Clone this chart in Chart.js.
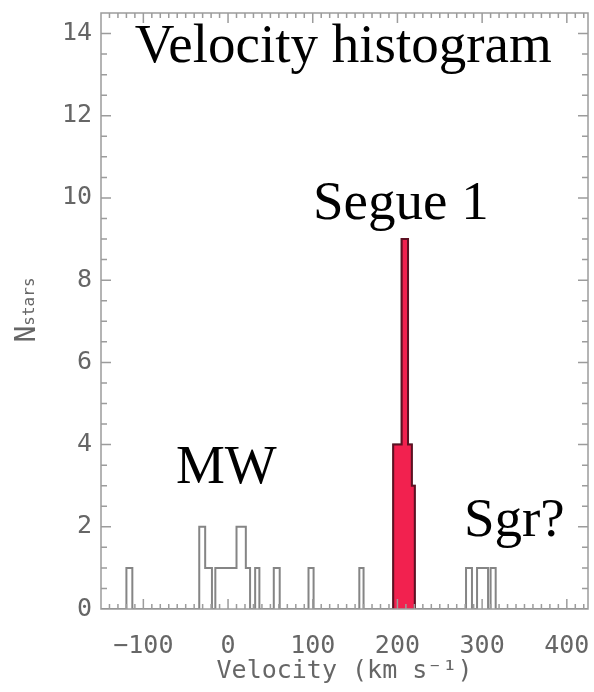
<!DOCTYPE html>
<html lang="en">
<head>
<meta charset="utf-8">
<title>Velocity histogram</title>
<script src="https://cdn.jsdelivr.net/npm/chart.js@4.4.0/dist/chart.umd.min.js"></script>
<style>
  html, body { margin: 0; padding: 0; background: #fff; }
  #wrap { width: 594px; height: 692px; }
</style>
</head>
<body>
<div id="wrap"><canvas id="velChart"></canvas></div>
<script>
// all stars: left bin edges (km/s) and counts in each bin
const allEdges  = [-150, -120, -113, -34, -27, -19, -15, 10, 21, 26, 32, 37, 54, 61, 95, 101, 155, 160, 195, 205, 212.5, 217, 220.5, 281, 288, 294, 307, 310, 316, 425];
const allCounts = [0, 1, 0, 2, 1, 0, 1, 2, 1, 0, 1, 0, 1, 0, 1, 0, 1, 0, 4, 9, 4, 3, 0, 1, 0, 1, 0, 1, 0, 0];
// Segue 1 members
const segEdges  = [195, 205, 212.5, 217, 220.5];
const segCounts = [4, 9, 4, 3, 0];

const xTicks = [-100, 0, 100, 200, 300, 400];
const yTicks = [0, 2, 4, 6, 8, 10, 12, 14];

// text labels placed in data coordinates (x, y = baseline)
const labelText = ['Velocity histogram', 'Segue 1', 'MW', 'Sgr?'];
const labelX    = [136, 204, -2, 338];
const labelY    = [13.3, 9.5, 3.07, 1.78];

function stepPoints(edges, counts) {
  const pts = [{x: edges[0], y: 0}];
  edges.forEach((e, i) => pts.push({x: e, y: counts[i]}));
  return pts;
}

const monoFont = "'DejaVu Sans Mono', monospace";

// box frame with inward ticks on all four sides
const frameTicks = {
  id: 'frameTicks',
  afterDatasetsDraw(chart) {
    const {ctx, chartArea: a, scales: {x, y}} = chart;
    ctx.save();
    ctx.strokeStyle = '#9c9c9c';
    ctx.lineWidth = 1.5;
    ctx.strokeRect(a.left, a.top, a.right - a.left, a.bottom - a.top);
    ctx.beginPath();
    for (let v = -140; v < 425; v += 10) {
      const px = x.getPixelForValue(v);
      const len = v % 100 === 0 ? 10 : 5;
      ctx.moveTo(px, a.bottom); ctx.lineTo(px, a.bottom - len);
      ctx.moveTo(px, a.top); ctx.lineTo(px, a.top + len);
    }
    for (let v = 0.5; v < 14.5; v += 0.5) {
      const py = y.getPixelForValue(v);
      const len = v % 2 === 0 ? 10 : 6;
      ctx.moveTo(a.left, py); ctx.lineTo(a.left + len, py);
      ctx.moveTo(a.right, py); ctx.lineTo(a.right - len, py);
    }
    ctx.stroke();
    ctx.restore();
  },
  afterDraw(chart) {
    const {ctx, scales: {x, y}} = chart;
    ctx.save();
    // N_stars y title
    ctx.translate(35, 310);
    ctx.rotate(-Math.PI / 2);
    ctx.fillStyle = '#666';
    ctx.textBaseline = 'alphabetic';
    ctx.font = '28px ' + monoFont;
    const wN = ctx.measureText('N').width;
    ctx.font = '16px ' + monoFont;
    const wS = ctx.measureText('stars').width;
    const start = -(wN + wS) / 2;
    ctx.font = '28px ' + monoFont;
    ctx.fillText('N', start, 0);
    ctx.font = '16px ' + monoFont;
    ctx.fillText('stars', start + wN, -1);
    ctx.restore();

    ctx.save();
    ctx.fillStyle = '#000';
    ctx.textAlign = 'center';
    ctx.textBaseline = 'alphabetic';
    ctx.font = "55px 'Liberation Serif', serif";
    labelText.forEach((t, i) => {
      ctx.fillText(t, x.getPixelForValue(labelX[i]), y.getPixelForValue(labelY[i]));
    });
    ctx.restore();
  }
};

const fmt = v => v < 0 ? '\u2212' + Math.abs(v) : String(v);

const config = {
  type: 'line',
  data: {
    datasets: [
      {
        label: 'Segue 1',
        data: stepPoints(segEdges, segCounts),
        stepped: true,
        borderColor: '#5e1022',
        borderWidth: 2,
        backgroundColor: '#f2214f',
        fill: 'origin',
        pointRadius: 0,
        order: 1
      },
      {
        label: 'All stars',
        data: stepPoints(allEdges, allCounts),
        stepped: true,
        borderColor: '#858585',
        borderWidth: 2,
        fill: false,
        pointRadius: 0,
        order: 2
      }
    ]
  },
  options: {
    responsive: true,
    maintainAspectRatio: false,
    animation: false,
    layout: { padding: { top: 13, right: 6, left: 0, bottom: 0 } },
    plugins: { legend: { display: false }, tooltip: { enabled: false } },
    scales: {
      x: {
        type: 'linear',
        min: -150,
        max: 425,
        afterBuildTicks: s => { s.ticks = xTicks.map(v => ({value: v})); },
        afterFit: s => { s.height = 83; s.paddingLeft = 0; s.paddingRight = 0; },
        grid: { display: false, drawTicks: false },
        border: { display: false },
        ticks: { callback: fmt, color: '#666', padding: 22, maxRotation: 0, font: { family: monoFont, size: 25 } },
        title: { display: true, text: 'Velocity (km s\u207B\u00B9)', color: '#666', padding: { top: 0, bottom: 6 }, font: { family: monoFont, size: 25 } }
      },
      y: {
        type: 'linear',
        min: 0,
        max: 14.5,
        afterBuildTicks: s => { s.ticks = yTicks.map(v => ({value: v})); },
        afterFit: s => { s.width = 101; s.paddingTop = 0; s.paddingBottom = 0; },
        grid: { display: false, drawTicks: false },
        border: { display: false },
        ticks: { color: '#666', padding: 9, font: { family: monoFont, size: 25 } }
      }
    }
  },
  plugins: [frameTicks]
};

const velChart = new Chart(document.getElementById('velChart'), config);
</script>
</body>
</html>
